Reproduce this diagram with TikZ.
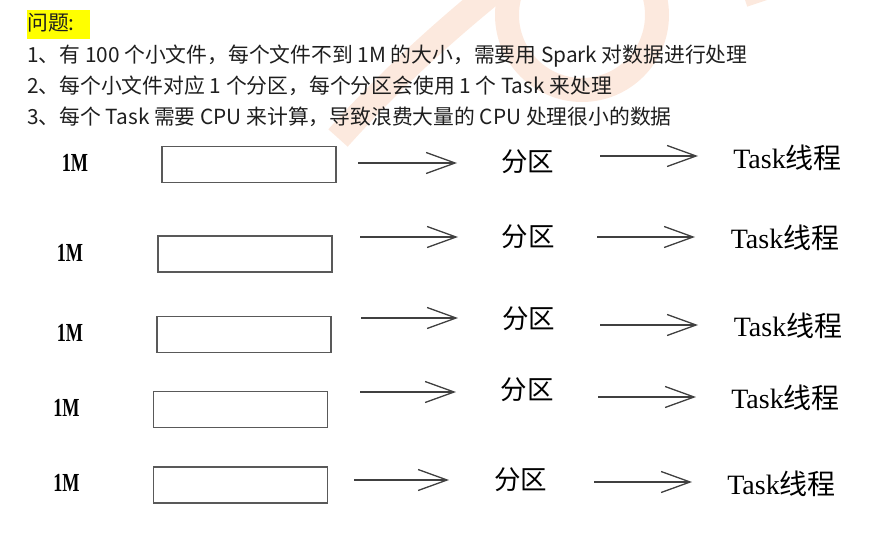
\documentclass[tikz,border=0pt]{standalone}
\usepackage{fontspec}
\setmainfont{Noto Sans CJK SC}
\newfontfamily\cjk{Noto Sans CJK SC}
\newfontfamily\serifl{Liberation Serif}
\usetikzlibrary{arrows.meta}
\definecolor{wm}{RGB}{252,233,222}
\definecolor{hl}{RGB}{255,255,0}
\definecolor{ink}{RGB}{30,30,30}
\begin{document}
\begin{tikzpicture}[x=1pt,y=-1pt,
  topline/.style={anchor=west,inner sep=0pt,text=ink,font=\cjk\fontsize{20.8}{24}\selectfont},
  filebox/.style={draw=black!65,line width=1.4pt,minimum width=174pt,minimum height=36pt,inner sep=0pt},
  sizelbl/.style={inner sep=0pt,text=black,font=\serifl\bfseries\fontsize{26}{30}\selectfont},
  partlbl/.style={inner sep=0pt,text=black,font=\cjk\fontsize{26.5}{30}\selectfont},
  tasklbl/.style={inner sep=0pt,text=black,font=\fontsize{28}{32}\selectfont},
  arr/.style={draw=black!75,line width=1.3pt,-{Straight Barb[length=29pt,width=21pt]}}
]
\useasboundingbox (0,0) rectangle (892,535);
% watermark
\begin{scope}
\clip (0,0) rectangle (892,535);
\draw[wm,line width=26pt] (338,138) .. controls (390,80) and (440,35) .. (495,-10);
\draw[wm,line width=24pt] (582,15) circle[radius=75];
\draw[wm,line width=14pt] (745,0) -- (775,-10);
\end{scope}
% header
\node[fill=hl,minimum width=63pt,minimum height=29pt,inner sep=0pt,anchor=north west] (hlbox) at (27,10) {};
\node[topline] (title) at (27,23) {问题:};
\node[topline] (l1) at (27,56) {1、有 100 个小文件，每个文件不到 1M 的大小，需要用 Spark 对数据进行处理};
\node[topline] (l2) at (27,86) {2、每个小文件对应 1 个分区，每个分区会使用 1 个 Task 来处理};
\node[topline] (l3) at (27,117) {3、每个 Task 需要 CPU 来计算，导致浪费大量的 CPU 处理很小的数据};
% rows
\node[sizelbl] (m1) at (75,163) {\scalebox{0.7}[1]{1M}};
\node[sizelbl] (m2) at (70,253) {\scalebox{0.7}[1]{1M}};
\node[sizelbl] (m3) at (70,333) {\scalebox{0.7}[1]{1M}};
\node[sizelbl] (m4) at (66.5,408) {\scalebox{0.7}[1]{1M}};
\node[sizelbl] (m5) at (66.5,483) {\scalebox{0.7}[1]{1M}};
\node[filebox] (b1) at (249,164.5) {};
\node[filebox] (b2) at (245,254) {};
\node[filebox] (b3) at (244,334.5) {};
\node[filebox] (b4) at (240.5,409.5) {};
\node[filebox] (b5) at (240.5,485) {};
\node[partlbl] (p1) at (527.5,162) {分区};
\node[partlbl] (p2) at (528,237) {分区};
\node[partlbl] (p3) at (528.5,319) {分区};
\node[partlbl] (p4) at (527,390) {分区};
\node[partlbl] (p5) at (520.5,480) {分区};
\node[tasklbl] (t1) at (787.5,158) {{\serifl Task}线程};
\node[tasklbl] (t2) at (785,238) {{\serifl Task}线程};
\node[tasklbl] (t3) at (788,326) {{\serifl Task}线程};
\node[tasklbl] (t4) at (785.5,398) {{\serifl Task}线程};
\node[tasklbl] (t5) at (781.5,484) {{\serifl Task}线程};
% arrow ends
\coordinate (a1s) at (358,163); \coordinate (a1e) at (457,163);
\coordinate (c1s) at (600,156); \coordinate (c1e) at (698,156);
\coordinate (a2s) at (360,237); \coordinate (a2e) at (458,237);
\coordinate (c2s) at (597,237); \coordinate (c2e) at (695,237);
\coordinate (a3s) at (361,318); \coordinate (a3e) at (458,318);
\coordinate (c3s) at (600,325); \coordinate (c3e) at (698,325);
\coordinate (a4s) at (360,392); \coordinate (a4e) at (456,392);
\coordinate (c4s) at (598,397); \coordinate (c4e) at (696,397);
\coordinate (a5s) at (354,480); \coordinate (a5e) at (449,480);
\coordinate (c5s) at (594,482); \coordinate (c5e) at (692,482);
\foreach \i in {1,...,5}{
  \draw[arr] (a\i s) -- (a\i e);
  \draw[arr] (c\i s) -- (c\i e);
}
\end{tikzpicture}
\end{document}
